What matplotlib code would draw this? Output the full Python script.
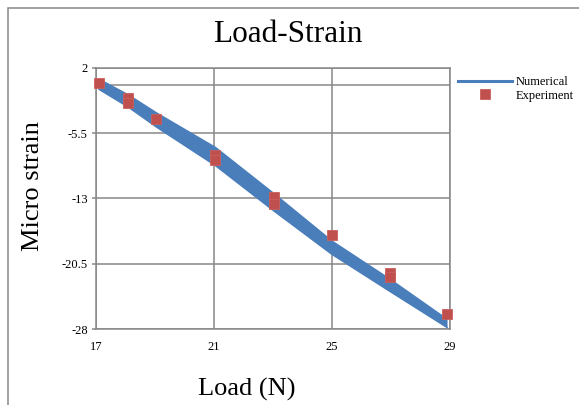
import matplotlib
matplotlib.use("Agg")
import matplotlib.pyplot as plt
from matplotlib.lines import Line2D
from matplotlib.patches import Rectangle

# Numerical solution (upper / lower bound of the computed band)
num_load = [17.1, 18.1, 19.05, 21.05, 23.05, 25.0, 26.95, 28.9]
num_upper = [0.67, -1.14, -3.20, -7.17, -12.52, -17.92, -22.26, -26.89]
num_lower = [-0.47, -2.52, -4.80, -9.23, -14.48, -19.42, -23.64, -27.81]

# Experimental readings
exp_load = [17.1, 18.1, 18.1, 19.05, 21.05, 21.05, 23.05, 23.05, 25.0, 26.95, 26.95, 28.9]
exp_strain = [0.28, -1.51, -2.05, -3.92, -8.06, -8.63, -12.88, -13.68, -17.24, -21.54, -22.03, -26.31]

x_ticks = [17, 21, 25, 29]
y_ticks = [2, -5.5, -13, -20.5, -28]
y_tick_labels = ["2", "-5.5", "-13", "-20.5", "-28"]

plt.rcParams["font.family"] = ["Liberation Serif", "DejaVu Serif"]
plt.rcParams["axes.unicode_minus"] = False

W, H = 579, 405
fig = plt.figure(figsize=(W / 100, H / 100), dpi=100)
fig.patch.set_facecolor("white")

grid_c = "#878787"
blue = "#4A7EBB"
red = "#C0504D"

ax = fig.add_axes([96 / W, 1 - 329 / H, (450 - 96) / W, (329 - 67.7) / H])
ax.set_xlim(17, 29)
ax.set_ylim(-28, 2)

ax.set_xticks(x_ticks)
ax.set_xticklabels([str(t) for t in x_ticks])
ax.set_yticks(y_ticks)
ax.set_yticklabels(y_tick_labels)
ax.grid(True, color=grid_c, linewidth=1.1)
ax.set_axisbelow(True)
ax.axhline(0, color=grid_c, linewidth=1.1, zorder=1)
for s in ax.spines.values():
    s.set_color(grid_c)
    s.set_linewidth(1.1)
ax.tick_params(axis="y", direction="out", length=3, width=1.1, color=grid_c,
               labelsize=9, pad=3)
ax.tick_params(axis="x", length=0, labelsize=9, pad=9)

# Numerical band
ax.fill_between(num_load, num_upper, num_lower, color=blue, linewidth=0, zorder=2)
ax.plot(num_load, num_upper, color=blue, linewidth=1.2, solid_capstyle="round", zorder=2)
ax.plot(num_load, num_lower, color=blue, linewidth=1.2, solid_capstyle="round", zorder=2)

# Experimental points
ax.plot(exp_load, exp_strain, linestyle="none", marker="s", markersize=6.6,
        color=red, markeredgecolor="#C9605D", markeredgewidth=0.6, zorder=3,
        clip_on=False)

handles = [
    Line2D([], [], color=blue, linewidth=2.2),
    Line2D([], [], linestyle="none", marker="s", markersize=6.6, color=red,
           markeredgecolor="#C9605D", markeredgewidth=0.6),
]
fig.legend(handles, ["Numerical", "Experiment"], loc="upper left",
           bbox_to_anchor=(458 / W, 1 - 76 / H), frameon=False, fontsize=9,
           handlelength=4.3, handletextpad=0.3, labelspacing=0.12,
           borderaxespad=0, borderpad=0)

fig.text(288 / W, 1 - 34 / H, "Load-Strain", ha="center", va="center", fontsize=22.5)
fig.text(247 / W, 1 - 389 / H, "Load (N)", ha="center", va="center", fontsize=19)
fig.text(33 / W, 1 - 186 / H, "Micro strain", ha="center", va="center",
         rotation=90, fontsize=19)

# Outer chart frame
fig.add_artist(Rectangle((8 / W, -0.2), 1.2, 1.2 - 8 / H,
                         transform=fig.transFigure, fill=False,
                         edgecolor=grid_c, linewidth=1.1))

fig.savefig("out.png", dpi=100, facecolor="white")
